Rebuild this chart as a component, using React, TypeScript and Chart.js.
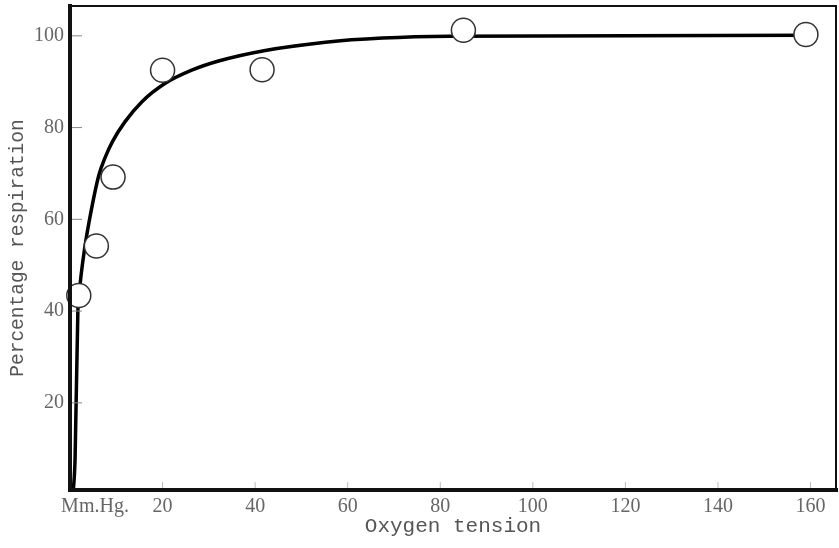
import React, { useEffect, useRef } from "react";
import { Chart, registerables } from "chart.js";

Chart.register(...registerables);

// Observed points (oxygen tension in mm Hg, percentage respiration)
const obsX = [1.9, 5.7, 9.3, 20, 41.5, 85, 159];
const obsY = [43.4, 54.2, 69.2, 92.5, 92.6, 101.2, 100.3];

// Fitted curve
const curveX = [0.7, 1.1, 1.7, 2.2, 3.2, 4.6, 6.2, 7.6, 9.2, 11.9, 15.5, 20.5, 26.3, 32.1, 42.2, 55.2, 67.5, 82, 159];
const curveY = [0.5, 8, 40, 46, 53.9, 62, 69.5, 73.5, 77, 81.3, 85.6, 89.6, 92.5, 94.5, 96.8, 98.6, 99.5, 99.9, 100.1];

const xTicks = [0, 20, 40, 60, 80, 100, 120, 140, 160];
const yTicks = [20, 40, 60, 80, 100];
const xZeroLabel = "Mm.Hg.";
const xTitle = "Oxygen tension";
const yTitle = "Percentage respiration";

const framePlugin = {
  id: "frame",
  afterDraw(chart: any) {
    const { ctx, chartArea: a, scales } = chart;
    ctx.save();
    ctx.strokeStyle = "#111";
    ctx.lineCap = "square";
    ctx.lineWidth = 2;
    ctx.beginPath();
    ctx.moveTo(a.left, a.top);
    ctx.lineTo(a.right, a.top);
    ctx.lineTo(a.right, a.bottom);
    ctx.stroke();
    ctx.lineWidth = 4;
    ctx.beginPath();
    ctx.moveTo(a.left, a.top);
    ctx.lineTo(a.left, a.bottom);
    ctx.lineTo(a.right, a.bottom);
    ctx.stroke();
    ctx.lineCap = "butt";
    ctx.strokeStyle = "#888";
    ctx.lineWidth = 1;
    for (const v of yTicks) {
      const py = scales.y.getPixelForValue(v);
      ctx.beginPath();
      ctx.moveTo(a.left + 2, py);
      ctx.lineTo(a.left + 12, py);
      ctx.stroke();
    }
    ctx.strokeStyle = "#bbb";
    for (const v of xTicks) {
      if (v === 0) continue;
      const px = scales.x.getPixelForValue(v);
      ctx.beginPath();
      ctx.moveTo(px, a.bottom - 2);
      ctx.lineTo(px, a.bottom - 8);
      ctx.stroke();
    }
    ctx.restore();
  },
};

export default function App() {
  const ref = useRef<HTMLCanvasElement>(null);
  useEffect(() => {
    if (!ref.current) return;
    const chart = new Chart(ref.current, {
      type: "scatter",
      data: {
        datasets: [
          {
            type: "scatter",
            data: obsX.map((x, i) => ({ x, y: obsY[i] })),
            pointRadius: 12,
            pointHoverRadius: 12,
            pointBackgroundColor: "#ffffff",
            pointBorderColor: "#333",
            pointBorderWidth: 1.5,
            clip: false,
            order: 0,
          },
          {
            type: "line",
            data: curveX.map((x, i) => ({ x, y: curveY[i] })),
            borderColor: "#000",
            borderWidth: 3.5,
            pointRadius: 0,
            fill: false,
            cubicInterpolationMode: "monotone",
            order: 1,
          } as any,
        ],
      },
      options: {
        animation: false,
        responsive: true,
        maintainAspectRatio: false,
        layout: { autoPadding: false, padding: { top: 6, right: 3, left: 0, bottom: 0 } },
        plugins: { legend: { display: false }, tooltip: { enabled: false } },
        scales: {
          x: {
            type: "linear",
            min: 0,
            max: 165.5,
            grid: { display: false, drawTicks: false },
            border: { display: false },
            afterBuildTicks: (s: any) => {
              s.ticks = xTicks.map((v) => ({ value: v }));
            },
            afterFit: (s: any) => {
              s.height = 58;
              s.paddingLeft = 0;
              s.paddingRight = 0;
            },
            ticks: {
              autoSkip: false,
              maxRotation: 0,
              padding: 5,
              color: "#666",
              font: { family: "'Liberation Serif', serif", size: 20 },
              callback: (v: any) => (v === 0 ? "          " + xZeroLabel : String(v)),
            },
            title: {
              display: true,
              text: xTitle,
              color: "#555",
              padding: { top: 0, bottom: 9 },
              font: { family: "'Liberation Mono', monospace", size: 21 },
            },
          },
          y: {
            type: "linear",
            min: 1,
            max: 106.5,
            grid: { display: false, drawTicks: false },
            border: { display: false },
            afterBuildTicks: (s: any) => {
              s.ticks = yTicks.map((v) => ({ value: v }));
            },
            afterFit: (s: any) => {
              s.width = 70;
              s.paddingTop = 0;
              s.paddingBottom = 0;
            },
            ticks: {
              padding: 6,
              color: "#666",
              font: { family: "'Liberation Serif', serif", size: 20 },
            },
            title: {
              display: true,
              text: yTitle,
              color: "#555",
              padding: { top: 6, bottom: 0 },
              font: { family: "'Liberation Mono', monospace", size: 19.5 },
            },
          },
        },
      } as any,
      plugins: [framePlugin],
    });
    return () => chart.destroy();
  }, []);
  return (
    <div style={{ position: "fixed", left: 0, top: 0, width: 839, height: 548, background: "#fff" }}>
      <canvas ref={ref} />
    </div>
  );
}
